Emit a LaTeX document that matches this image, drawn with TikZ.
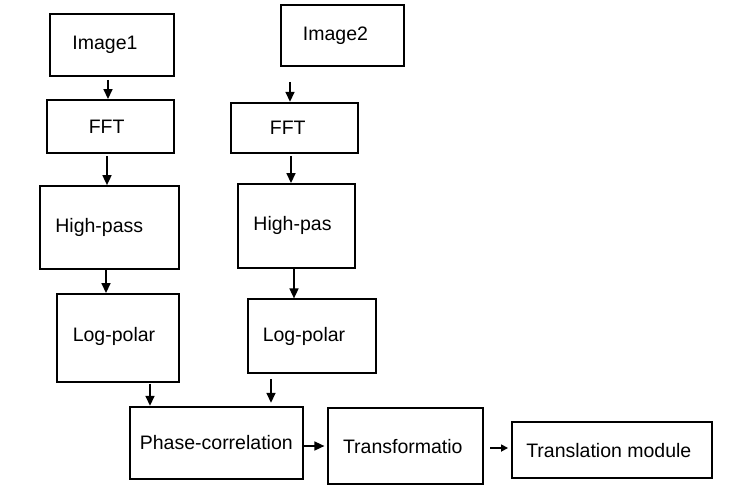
\documentclass[tikz,border=0pt]{standalone}
\usepackage{fontspec}
\setmainfont{Liberation Sans}
\usetikzlibrary{arrows.meta}

% text set a little off the centre of its box
\newcommand{\nudge}[3]{\raisebox{#2}{\hspace*{#1}#3\hspace*{-#1}}}

\begin{document}
\begin{tikzpicture}[x=1pt, y=-1pt,
    stage/.style={draw, line width=1.8pt, inner sep=0pt, font=\fontsize{19.5}{23}\selectfont},
    arr/.style={-{Triangle[length=10pt, width=9pt]}, line width=1.6pt},
    smallarr/.style={-{Triangle[length=7pt, width=7pt]}, line width=1.6pt}]
    \useasboundingbox (0,0) rectangle (730,492);

    % Left branch
    \node[stage, minimum width=124pt, minimum height=62pt] (img1) at (112,45) {\nudge{-7pt}{-1pt}{Image1}};
    \node[stage, minimum width=126.7pt, minimum height=52.7pt] (fft1) at (110.7,126.3) {\nudge{-4pt}{-1pt}{FFT}};
    \node[stage, minimum width=138.7pt, minimum height=83.3pt] (hp1) at (109.3,227.7) {\nudge{-10pt}{4pt}{High-pass}};
    \node[stage, minimum width=121.4pt, minimum height=87.7pt] (lp1) at (118,337.8) {\nudge{-4pt}{6pt}{Log-polar}};

    % Right branch
    \node[stage, minimum width=123pt, minimum height=61.3pt] (img2) at (342.5,35.3) {\nudge{-7pt}{0pt}{Image2}};
    \node[stage, minimum width=126.7pt, minimum height=50pt] (fft2) at (294.7,127.7) {\nudge{-7pt}{-1pt}{FFT}};
    \node[stage, minimum width=116.4pt, minimum height=83.7pt] (hp2) at (296.5,225.8) {\nudge{-4pt}{4pt}{High-pas}};
    \node[stage, minimum width=127.4pt, minimum height=74pt] (lp2) at (312,336.3) {\nudge{-8pt}{-2pt}{Log-polar}};

    % Bottom row
    \node[stage, minimum width=172.7pt, minimum height=72.6pt] (phase) at (216.3,443) {Phase-correlation};
    \node[stage, minimum width=155pt, minimum height=75.7pt] (trans) at (405.8,446.2) {\nudge{-3pt}{0pt}{Transformatio}};
    \node[stage, minimum width=199.7pt, minimum height=56pt] (transl) at (611.8,450.3) {\nudge{-3pt}{0pt}{Translation module}};

    % Arrows down the left branch
    \draw[arr] ([yshift=-3pt]img1.south -| 108,0) -- (fft1.north -| 108,0);
    \draw[arr] ([yshift=-2.3pt]fft1.south -| 107,0) -- (hp1.north -| 107,0);
    \draw[arr] (hp1.south -| 106,0) -- (lp1.north -| 106,0);
    \draw[arr] ([yshift=-1pt]lp1.south -| 150,0) -- (phase.north -| 150,0);

    % Arrows down the right branch
    \draw[arr] ([yshift=-15pt]img2.south -| 290,0) -- (fft2.north -| 290,0);
    \draw[arr] ([yshift=-2.3pt]fft2.south -| 291,0) -- (hp2.north -| 291,0);
    \draw[arr] (hp2.south -| 294,0) -- (lp2.north -| 294,0);
    \draw[arr] ([yshift=-4.7pt]lp2.south -| 271,0) -- ([yshift=3pt]phase.north -| 271,0);

    % Arrows along the bottom row
    \draw[arr] (phase.east |- 0,446) -- ([xshift=-3pt]trans.west |- 0,446);
    \draw[smallarr] ([xshift=6pt]trans.east |- 0,448) -- ([xshift=-3pt]transl.west |- 0,448);
\end{tikzpicture}
\end{document}
